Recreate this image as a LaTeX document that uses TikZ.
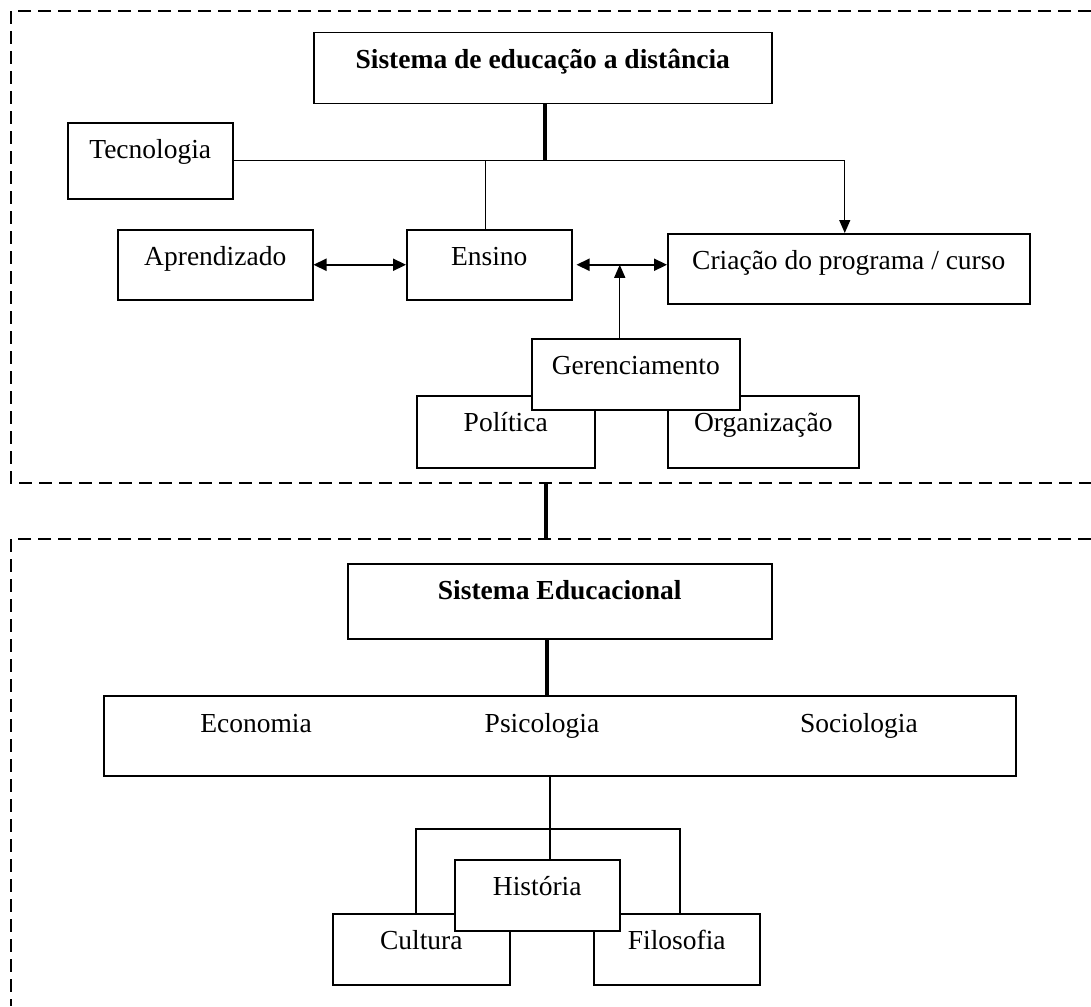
\documentclass[tikz,border=0pt]{standalone}
\usepackage{fontspec}
\setmainfont{Liberation Serif}
\usetikzlibrary{arrows.meta}
\newcommand\diagfont{\fontsize{27.5}{33}\selectfont}
\begin{document}
\begin{tikzpicture}[x=1pt,y=-1pt,
  bx/.style={draw, fill=white, line width=1.5pt, inner sep=0pt, anchor=north west,
             font=\diagfont, text height=36pt, align=center},
  lbl/.style={inner sep=0pt, anchor=base, font=\diagfont},
  conn/.style={line width=1.3pt},
  thickc/.style={line width=4pt},
  tip/.style={-{Triangle[length=13pt,width=11pt]}},
  dbl/.style={line width=2.2pt, {Triangle[length=13pt,width=12pt]}-{Triangle[length=13pt,width=12pt]}},
  frame/.style={line width=1.5pt, dash pattern=on 13pt off 7pt}
]
\useasboundingbox (0,0) rectangle (1091,1006);

% dashed frames
\draw[frame] (1091,11) -- (11,11) -- (11,483) -- (1091,483);
\draw[frame] (1091,539) -- (11,539) -- (11,1006);

% ---- upper system ----
\node[bx, minimum width=458pt, text depth=35pt] (sed) at (313,32) {\bfseries Sistema de educação a distância};
\node[bx, minimum width=165pt, text depth=40pt] (tec) at (67,122) {Tecnologia};
\node[bx, minimum width=195pt, text depth=34pt] (apr) at (117,229) {Aprendizado};
\node[bx, minimum width=165pt, text depth=34pt] (ens) at (406,229) {Ensino};
\node[bx, minimum width=362pt, text depth=34pt] (cri) at (667,233) {Criação do programa / curso};
\node[bx, minimum width=178pt, text depth=36pt] (pol) at (416,395) {Política};
\node[bx, minimum width=191pt, text depth=36pt] (org) at (667,395) {Organização};
\node[bx, minimum width=208pt, text depth=35pt] (ger) at (531,338) {Gerenciamento};

\coordinate (j) at (545,160);
\draw[thickc] (sed.south -| j) -- (j);
\draw[conn] (tec.east) -- ([xshift=-4pt]tec.east -| cri.north);
\draw[conn] ([xshift=-4pt]ens.north |- tec.east) -- ([xshift=-4pt]ens.north);
\draw[conn, tip] ([xshift=-4pt]tec.east -| cri.north) -- ([xshift=-4pt]cri.north);
\draw[dbl] (apr.east) -- (ens.west);
\draw[dbl] ([xshift=4pt]ens.east) -- (cri.west |- ens.east);
\draw[conn, tip] ([xshift=-16pt]ger.north) -- ([xshift=-16pt]ger.north |- ens.east);

% link between frames
\coordinate (f1) at (546,483);
\coordinate (f2) at (546,539);
\draw[thickc] (f1) -- (f2);

% ---- lower system ----
\node[bx, minimum width=424pt, text depth=39pt] (se) at (347,563) {\bfseries Sistema Educacional};
\node[bx, minimum width=912pt, text depth=44pt] (big) at (103,695) {};
\node[lbl] (eco) at (256,732) {Economia};
\node[lbl] (psi) at (542,732) {Psicologia};
\node[lbl] (soc) at (859,732) {Sociologia};

\draw[thickc] ([xshift=-13pt]se.south) -- ([xshift=-13pt]se.south |- big.north);

\coordinate (bc) at (550,829);
\coordinate (bl) at (416,829);
\coordinate (br) at (680,829);

\node[bx, minimum width=177pt, text depth=35pt] (cul) at (332,913) {Cultura};
\node[bx, minimum width=166pt, text depth=35pt] (fil) at (593,913) {Filosofia};

\draw[conn] (bc |- big.south) -- (bc);
\draw[conn] (bl |- cul.north) -- (bl) -- (br) -- (br |- fil.north);
\draw[conn] (bc) -- (bc |- 0,859);

\node[bx, minimum width=165pt, text depth=35pt] (his) at (454,859) {História};
\end{tikzpicture}
\end{document}
